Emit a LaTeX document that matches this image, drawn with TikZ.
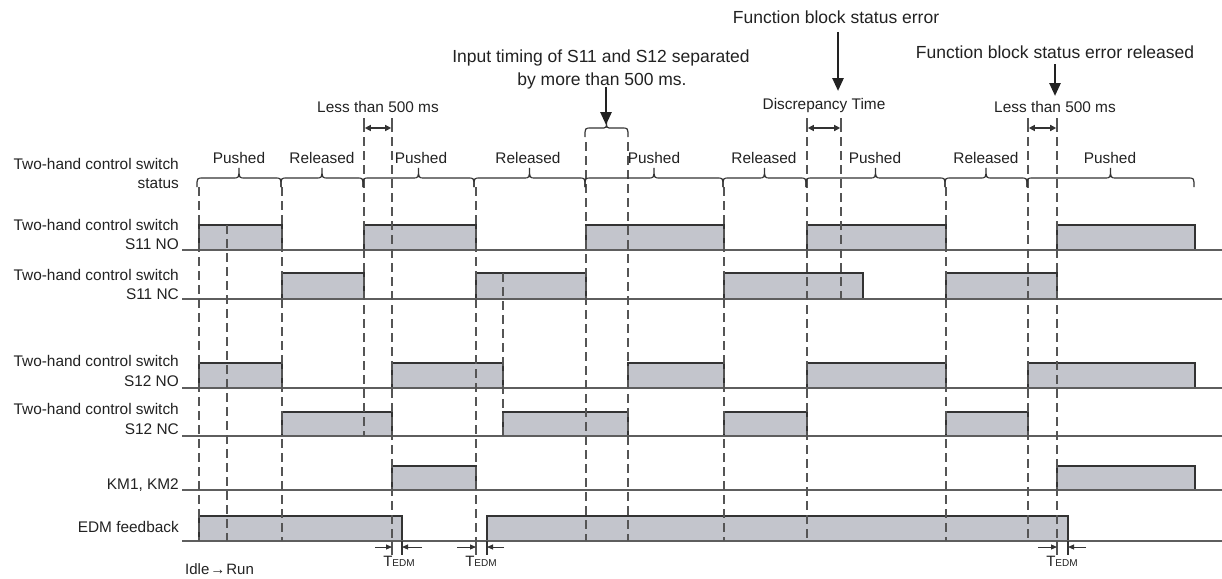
\documentclass[tikz,border=0pt]{standalone}
\usepackage{fontspec}
\setmainfont{Liberation Sans}
\usetikzlibrary{arrows.meta}
\definecolor{fillg}{HTML}{C3C5CC}
\definecolor{edgec}{HTML}{333333}
\definecolor{basel}{HTML}{5E5E5E}
\definecolor{dashc}{HTML}{555555}
\definecolor{txt}{HTML}{222222}
\tikzset{
 sig/.style={fill=fillg, draw=edgec, line width=1.2pt},
 baseln/.style={draw=basel, line width=1.5pt},
 guide/.style={draw=dashc, line width=1.6pt, dash pattern=on 9pt off 5pt},
 tickln/.style={draw=dashc, line width=1.5pt},
 bigarrow/.style={draw=txt, line width=2.6pt, -{Triangle[length=13pt,width=11pt]}},
 dimarrow/.style={draw=edgec, line width=1.3pt, {Triangle[length=6pt,width=6pt]}-{Triangle[length=6pt,width=6pt]}, shorten <=0.8pt, shorten >=0.8pt},
 tarrow/.style={draw=edgec, line width=1pt, -{Triangle[length=6pt,width=5pt]}},
 rowlab/.style={anchor=base east, inner sep=0pt, font=\fontsize{15.4}{18}\selectfont, text=txt},
 stlab/.style={anchor=base, inner sep=0pt, font=\fontsize{15.4}{18}\selectfont, text=txt},
 annot/.style={anchor=base, inner sep=0pt, font=\fontsize{17.5}{21}\selectfont, text=txt},
 bracep/.style={draw=edgec, line width=1.2pt},
}
\newcommand\hbr[5]{%
 \pgfmathsetmacro\xm{(#1+#2)/2}%
 \draw[bracep] (#1,#3) .. controls (#1,#4) .. (#1+6,#4) -- (\xm-6,#4) .. controls (\xm,#4) .. (\xm,#5) .. controls (\xm,#4) .. (\xm+6,#4) -- (#2-6,#4) .. controls (#2,#4) .. (#2,#3);}
\newcommand\pl[4]{\draw[sig] (#1,#4) rectangle (#2,#3);}
\begin{document}
\begin{tikzpicture}[x=1pt,y=-1pt]
\useasboundingbox[fill=white] (0,0) rectangle (1222,578);

% ---- pulses ----
\foreach \a/\b in {199/282,364/476,586/724,807/946,1057/1195} {\pl{\a}{\b}{225}{250}}
\foreach \a/\b in {282/364,476/586,724/863,946/1057} {\pl{\a}{\b}{273}{299}}
\foreach \a/\b in {199/282,392/503,628/724,807/946,1028/1195} {\pl{\a}{\b}{363}{388}}
\foreach \a/\b in {282/392,503/628,724/807,946/1028} {\pl{\a}{\b}{412}{436}}
\foreach \a/\b in {392/476,1057/1195} {\pl{\a}{\b}{466}{490}}
\foreach \a/\b in {199/402,487/1068} {\pl{\a}{\b}{516}{541}}

% ---- baselines ----
\foreach \y in {250,299,388,436,490,541} {\draw[baseln] (182,\y) -- (1222,\y);}

% ---- guide lines ----
\foreach \x/\ya/\yb in {199/187/541,227/225/541,282/187/541,364/137/436,392/137/541,476/187/541,503/273/436,586/142/541,628/142/541,724/187/541,807/137/541,841/137/299,946/187/541,1028/137/541,1057/137/541}
 {\draw[guide] (\x,\ya) -- (\x,\yb);}
\foreach \x in {364,392,807,841,1028,1057} {\draw[tickln] (\x,118) -- (\x,132);}
\foreach \x in {392,476,1057} {\draw[tickln] (\x,541) -- (\x,555);}
\foreach \x in {402,487,1068} {\draw[draw=edgec, line width=1.2pt] (\x,541) -- (\x,555);}

% ---- dimension arrows ----
\coordinate (d1a) at (364,128); \coordinate (d1b) at (392,128);
\coordinate (d2a) at (807,128); \coordinate (d2b) at (841,128);
\coordinate (d3a) at (1028,128); \coordinate (d3b) at (1057,128);
\draw[dimarrow] (d1a) -- (d1b);
\draw[dimarrow] (d2a) -- (d2b);
\draw[dimarrow] (d3a) -- (d3b);

\foreach \l/\r/\L/\R in {375/392/422/402, 457/476/504/487, 1038/1057/1086/1068}{
 \draw[tarrow] (\l,547) -- (\r,547);
 \draw[tarrow] (\L,547) -- (\R,547);
}

% ---- braces ----
\foreach \a/\b in {197/281,281/363,363/474,474/585,585/723,723/806,806/945,945/1027,1027/1194} {\hbr{\a}{\b}{187}{178}{168}}
\hbr{585}{628}{137}{128}{122}

\node[stlab] (p1) at (239,163) {Pushed};
\node[stlab] (r1) at (322,163) {Released};
\node[stlab] (p2) at (421,163) {Pushed};
\node[stlab] (r2) at (528,163) {Released};
\node[stlab] (p3) at (654,163) {Pushed};
\node[stlab] (r3) at (764,163) {Released};
\node[stlab] (p4) at (875,163) {Pushed};
\node[stlab] (r4) at (986,163) {Released};
\node[stlab] (p5) at (1110,163) {Pushed};

% ---- row labels ----
\node[rowlab] (l0a) at (179,169.5) {Two-hand control switch};
\node[rowlab] (l0b) at (179,188.5) {status};
\node[rowlab] (l1a) at (179,230) {Two-hand control switch};
\node[rowlab] (l1b) at (179,249) {S11 NO};
\node[rowlab] (l2a) at (179,280) {Two-hand control switch};
\node[rowlab] (l2b) at (179,299.5) {S11 NC};
\node[rowlab] (l3a) at (179,366.5) {Two-hand control switch};
\node[rowlab] (l3b) at (179,386) {S12 NO};
\node[rowlab] (l4a) at (179,414.5) {Two-hand control switch};
\node[rowlab] (l4b) at (179,434) {S12 NC};
\node[rowlab] (l5) at (179,489.5) {KM1, KM2};
\node[rowlab] (l6) at (179,532.5) {EDM feedback};

% ---- annotations ----
\node[annot] (fbe) at (836,24) {Function block status error};
\node[annot] (fbr) at (1055,59) {Function block status error released};
\node[annot] (it1) at (601,63) {Input timing of S11 and S12 separated};
\node[annot] (it2) at (602,85) {by more than 500 ms.};
\node[stlab] (lt1) at (378,112) {Less than 500 ms};
\node[stlab] (dct) at (824,109) {Discrepancy Time};
\node[stlab] (lt2) at (1055,112) {Less than 500 ms};

\coordinate (a1s) at (838,32); \coordinate (a1e) at (838,91);
\coordinate (a2s) at (606,87); \coordinate (a2e) at (606,125);
\coordinate (a3s) at (1055,64); \coordinate (a3e) at (1055,96);
\draw[bigarrow] (a1s) -- (a1e);
\draw[bigarrow] (a2s) -- (a2e);
\draw[bigarrow] (a3s) -- (a3e);

% ---- bottom labels ----
\node[anchor=base west, inner sep=0pt, font=\fontsize{15}{18}\selectfont, text=txt] (idle) at (185,574) {Idle\kern1pt→\kern1ptRun};
\foreach \x/\n in {399/t1,481/t2,1062/t3}
 \node[anchor=base, inner sep=0pt, text=txt] (\n) at (\x,566) {{\fontsize{15}{18}\selectfont T}{\fontsize{10}{12}\selectfont EDM}};
\end{tikzpicture}
\end{document}
